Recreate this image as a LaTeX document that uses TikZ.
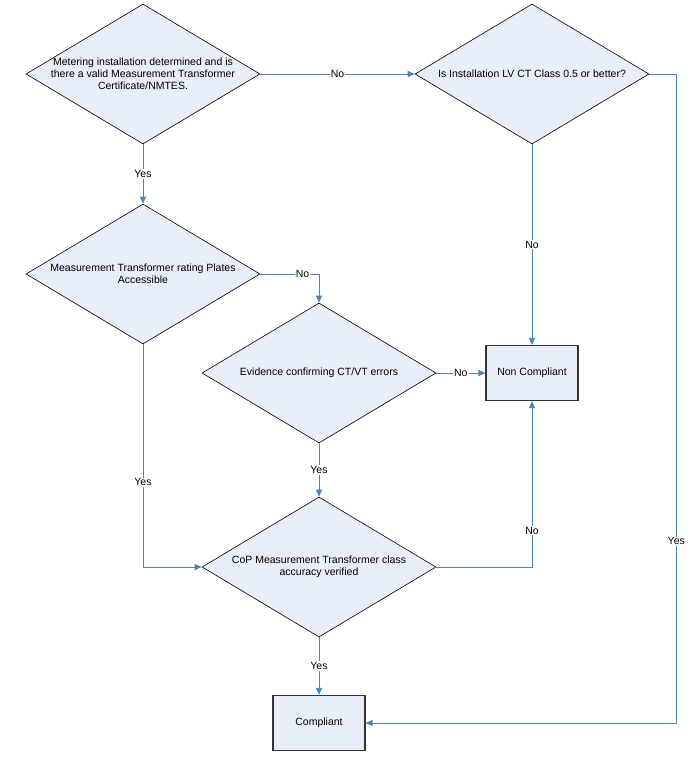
\documentclass[tikz,border=0pt]{standalone}
\usepackage{fontspec}
\setmainfont{Liberation Sans}
\usetikzlibrary{shapes.geometric, arrows.meta}
\definecolor{lineblue}{RGB}{79,129,189}
\definecolor{shapefill}{RGB}{232,238,247}

\begin{document}
\begin{tikzpicture}[x=1pt, y=-1pt, font=\fontsize{10.5}{12.2}\selectfont,
    decision/.style={diamond, draw=black, line width=0.6pt, fill=shapefill, minimum width=234pt,
                     minimum height=140pt, aspect=1.67, inner sep=-2pt, align=center},
    outcome/.style={rectangle, draw=black!80, line width=1.2pt, fill=shapefill,
                    minimum width=92pt, minimum height=55pt},
    flow/.style={draw=lineblue, line width=0.8pt,
                 -{Triangle[length=7pt,width=6pt,color=lineblue,fill=lineblue]}},
    answer/.style={fill=white, inner sep=1pt}]
  \useasboundingbox (0,0) rectangle (695,760);

  \node[decision] (meter) at (143,74) {Metering installation determined and is\\there a valid Measurement Transformer\\Certificate/NMTES.};
  \node[decision] (lvct) at (532,74) {Is Installation LV CT Class 0.5 or better?};
  \node[decision] (plates) at (143,274) {Measurement Transformer rating Plates\\Accessible};
  \node[decision] (evidence) at (319,373) {Evidence confirming CT/VT errors};
  \node[decision] (cop) at (319,567) {CoP Measurement Transformer class\\accuracy verified};
  \node[outcome] (noncomp) at (532,373) {Non Compliant};
  \node[outcome] (comp) at (319,723) {Compliant};

  \path[flow]
    (meter) edge node[answer] {No} (lvct)
            edge node[answer] {Yes} (plates)
    (lvct) edge node[answer] {No} (noncomp)
    (evidence) edge node[answer] {No} (noncomp)
               edge node[answer] {Yes} (cop)
    (cop) edge node[answer] {Yes} (comp);

  \draw[flow] (lvct.east) -- ++(27,0) |- node[answer, pos=0.36] {Yes} (comp.east);
  \draw[flow] (plates.east) -| node[answer, pos=0.36] {No} (evidence.north);
  \draw[flow] (plates.south) |- node[answer, pos=0.31] {Yes} (cop.west);
  \draw[flow] (cop.east) -| node[answer, pos=0.61] {No} (noncomp.south);
\end{tikzpicture}
\end{document}
